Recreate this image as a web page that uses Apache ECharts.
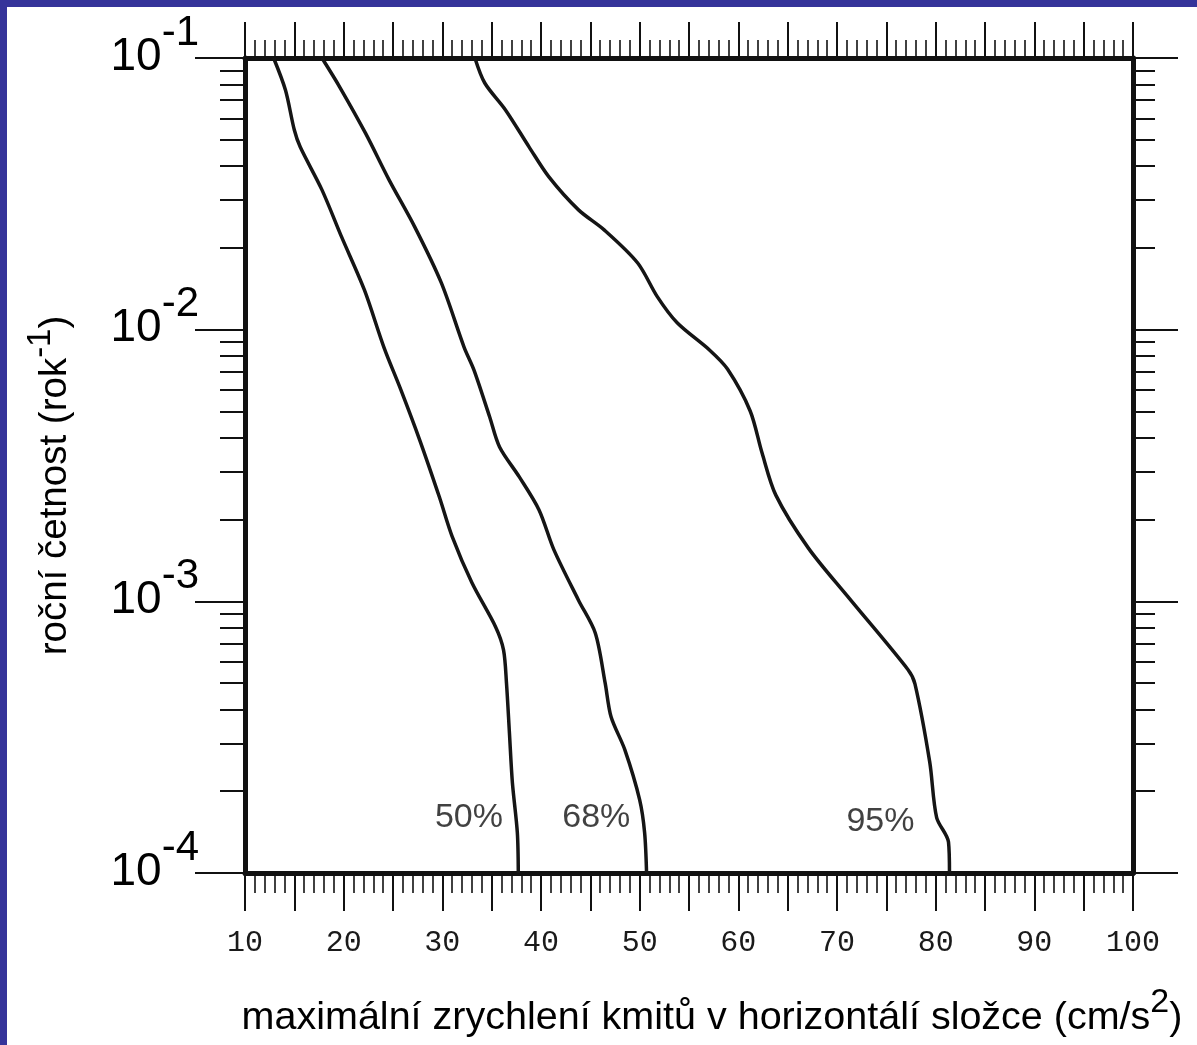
<!DOCTYPE html>
<html>
<head>
<meta charset="utf-8">
<script src="https://cdn.jsdelivr.net/npm/echarts@6/dist/echarts.min.js"></script>
<style>
  html, body { margin: 0; padding: 0; background: #fff; }
  #chart {
    width: 1190px;
    height: 1038px;
    border-left: 7px solid #35349a;
    border-top: 7px solid #35349a;
  }
</style>
</head>
<body>
<div id="chart"></div>
<script>
// acceleration (cm/s2) vs annual frequency
const p50 = [
  [12.9, 0.1], [14.1, 0.0762], [15.0, 0.0543], [15.6, 0.047], [17.8, 0.0327],
  [19.8, 0.0219], [22.1, 0.014], [24.1, 0.00857], [25.8, 0.006], [27.7, 0.00393],
  [29.7, 0.00242], [31.0, 0.00173], [33.0, 0.00117], [35.4, 0.000805], [36.2, 0.000663],
  [36.5, 0.000501], [36.8, 0.000328], [37.1, 0.000215], [37.6, 0.000141], [37.7, 0.0001]
];
const p68 = [
  [17.8, 0.1], [19.6, 0.0782], [22.2, 0.053], [24.6, 0.0356], [27.2, 0.0239],
  [29.9, 0.01486], [32.2, 0.00863], [33.2, 0.00711], [34.8, 0.00477], [35.8, 0.0037],
  [37.8, 0.00287], [39.8, 0.00217], [41.3, 0.00155], [43.8, 0.00101], [45.5, 0.000765],
  [46.5, 0.000501], [47.1, 0.000376], [48.5, 0.000284], [50.0, 0.000186], [50.5, 0.000141],
  [50.7, 0.0001]
];
const p95 = [
  [33.3, 0.1], [34.3, 0.0809], [36.4, 0.0644], [38.8, 0.047], [40.8, 0.0365],
  [43.8, 0.0276], [46.4, 0.0233], [49.8, 0.0176], [51.8, 0.0132], [53.8, 0.0106],
  [57.1, 0.0084], [58.9, 0.00716], [61.2, 0.00502], [62.4, 0.00352], [63.8, 0.00246],
  [67.1, 0.00157], [71.1, 0.00104], [77.2, 0.00056], [77.9, 0.000497], [79.4, 0.000256],
  [80.1, 0.00016], [81.3, 0.00013], [81.4, 0.0001]
];
const curveNames = ['50%', '68%', '95%'];
const curveLabelAt = [[32.7, 1.6e-4], [45.6, 1.6e-4], [74.4, 1.54e-4]];

const xMin = 10, xMax = 100, xStep = 5;
const yMin = 1e-4, yMax = 1e-1;
// 2..9 in every decade
const yMinorTicks = [];
for (let e = -4; e <= -2; e++) {
  for (let m = 2; m <= 9; m++) yMinorTicks.push(+(m * Math.pow(10, e)).toPrecision(3));
}

const ink = '#111';
const sans = '"Liberation Sans", Arial, sans-serif';

function xAxisCfg(position, majorLen, minorLen, withLabels) {
  return {
    type: 'value', position, min: xMin, max: xMax, interval: xStep,
    axisLine: { show: true, lineStyle: { color: ink, width: 5 } },
    axisTick: { show: true, length: majorLen, lineStyle: { color: ink, width: 2 } },
    minorTick: { show: true, splitNumber: 5, length: minorLen, lineStyle: { color: ink, width: 1.6 } },
    splitLine: { show: false },
    axisLabel: withLabels ? {
      margin: 55,
      fontFamily: '"Liberation Mono", "Courier New", monospace',
      fontSize: 30, color: '#1a1a1a',
      formatter: v => (v % 10 === 0 ? String(v) : '')
    } : { show: false }
  };
}

function yAxisCfg(position, len, minor, withLabels) {
  const ax = {
    type: 'log', logBase: 10, position, min: yMin, max: yMax,
    axisLine: { show: !minor, lineStyle: { color: ink, width: 5 } },
    axisTick: { show: true, length: len, lineStyle: { color: ink, width: 2 } },
    splitLine: { show: false },
    axisLabel: { show: false }
  };
  if (minor) ax.axisTick.customValues = yMinorTicks;
  if (withLabels) {
    ax.axisLabel = {
      show: true, margin: 46, padding: [0, 0, 24, 0],
      formatter: v => '{b|10}{s|' + Math.round(Math.log10(v)) + '}',
      rich: {
        b: { fontFamily: sans, fontSize: 46, color: '#000', verticalAlign: 'bottom' },
        s: { fontFamily: sans, fontSize: 42, color: '#000', verticalAlign: 'top', padding: [0, 0, 26, 0] }
      }
    };
    ax.name = '{t|roční četnost (rok}{s|-1}{t|)}';
    ax.nameLocation = 'middle';
    ax.nameRotate = 90;
    ax.nameGap = 170;
    ax.nameTextStyle = {
      padding: [0, 40, 0, 0],
      rich: {
        t: { fontFamily: sans, fontSize: 38.5, color: '#000', verticalAlign: 'bottom' },
        s: { fontFamily: sans, fontSize: 33, color: '#000', verticalAlign: 'top', padding: [0, 0, 18, 0] }
      }
    };
  }
  return ax;
}

const bottomAxis = xAxisCfg('bottom', 38, 20, true);
bottomAxis.name = '{t|maximální zrychlení kmitů v horizontálí složce (cm/s}{s|2}{t|)}';
bottomAxis.nameLocation = 'middle';
bottomAxis.nameGap = 113;
bottomAxis.nameTextStyle = {
  padding: [0, 0, 0, 46],
  rich: {
    t: { fontFamily: sans, fontSize: 39.5, color: '#000', verticalAlign: 'bottom' },
    s: { fontFamily: sans, fontSize: 34, color: '#000', verticalAlign: 'top', padding: [0, 0, 18, 0] }
  }
};

const chart = echarts.init(document.getElementById('chart'));
chart.setOption({
  animation: false,
  backgroundColor: '#fff',
  grid: { left: 238, top: 51, width: 888, height: 815 },
  xAxis: [bottomAxis, xAxisCfg('top', 36, 18, false)],
  yAxis: [
    yAxisCfg('left', 50, false, true),
    yAxisCfg('left', 25, true, false),
    yAxisCfg('right', 45, false, false),
    yAxisCfg('right', 22, true, false)
  ],
  series: [
    ...[p50, p68, p95].map((d, i) => ({
      name: curveNames[i], type: 'line', data: d,
      xAxisIndex: 0, yAxisIndex: 0,
      showSymbol: false, symbol: 'none', smooth: 0.3,
      lineStyle: { color: '#151515', width: 3.5 }
    })),
    {
      type: 'scatter', xAxisIndex: 0, yAxisIndex: 0,
      symbolSize: 1, itemStyle: { color: 'rgba(0,0,0,0)' },
      data: curveNames.map((n, i) => ({ name: n, value: curveLabelAt[i] })),
      label: {
        show: true, position: 'inside', formatter: p => p.name,
        fontFamily: sans, fontSize: 34, color: '#111'
      }
    }
  ]
});
</script>
</body>
</html>
